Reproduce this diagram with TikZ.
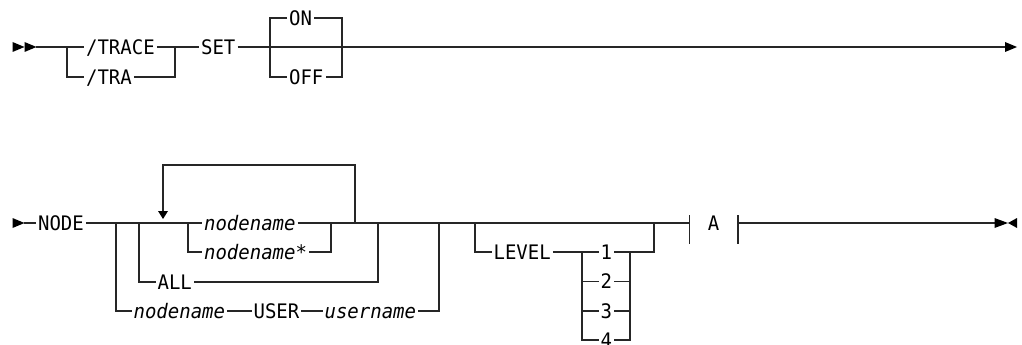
\documentclass[tikz,border=0pt]{standalone}
\usepackage{fontspec}
\newfontfamily\synfont[FakeStretch=0.95]{DejaVu Sans Mono}
\begin{document}
\begin{tikzpicture}[x=1pt,y=-1pt,
  line width=1.2pt,
  ln/.style={draw=black!85},
  lbl/.style={inner xsep=1.5pt, inner ysep=0pt, anchor=west, text height=14.6pt, text depth=0pt,
    font=\synfont\fontsize{20}{20}\selectfont},
  it/.style={font=\synfont\itshape\fontsize{20}{20}\selectfont},
  tip/.style={fill=black}]
\useasboundingbox (0,0) rectangle (1022,345);

% ---------- top row ----------
\coordinate (s1) at (36,47);
\fill[tip] (12.5,42) -- (24.5,47) -- (12.5,52) -- cycle;
\fill[tip] (24.5,42) -- (36.5,47) -- (24.5,52) -- cycle;
\coordinate (bA) at (67,47);
\node[lbl] (trace) at (84,47) {/TRACE};
\node[lbl] (tra) at (84,77) {/TRA};
\coordinate (bB) at (175,47);
\node[lbl] (set) at (199,47) {SET};
\coordinate (bC) at (270,47);
\node[lbl] (on) at (287,18) {ON};
\node[lbl] (off) at (287,77) {OFF};
\coordinate (bD) at (342,47);
\coordinate (e1) at (1005,47);

\draw[ln] (s1) -- (bA) -- (trace.west);
\draw[ln] (trace.east) -- (bB);
\draw[ln] (bA) |- (tra.west);
\draw[ln] (tra.east) -| (bB);
\draw[ln] (bB) -- (set.west);
\draw[ln] (set.east) -- (bC) -- (bD) -- (e1);
\draw[ln] (on.west) -| (bC) |- (off.west);
\draw[ln] (on.east) -| (bD) |- (off.east);
\fill[tip] (1005,42) -- (1017,47) -- (1005,52) -- cycle;

% ---------- bottom row ----------
\fill[tip] (12.5,218) -- (24.5,223) -- (12.5,228) -- cycle;
\coordinate (s2) at (24,223);
\node[lbl] (nodekw) at (36,223) {NODE};
\coordinate (c1) at (116,223);
\coordinate (c2) at (139,223);
\coordinate (lp) at (163,223);
\coordinate (c3) at (188,223);
\node[lbl,it] (nn1) at (202,223) {nodename};
\node[lbl,it] (nn2) at (202,252) {nodename*};
\coordinate (c4) at (331,223);
\coordinate (lr) at (355,223);
\coordinate (c5) at (378,223);
\node[lbl] (all) at (155.5,282) {ALL};
\node[lbl,it] (nn3) at (131.5,311) {nodename};
\node[lbl] (user) at (251.5,311) {USER};
\node[lbl,it] (un) at (322.5,311) {username};
\coordinate (c6) at (439,223);
\coordinate (c7) at (475,223);
\node[lbl] (lev) at (491.5,252) {LEVEL};
\coordinate (c8) at (582,252);
\node[lbl] (n1) at (598.5,252) {1};
\node[lbl] (n2) at (598.5,281.5) {2};
\node[lbl] (n3) at (598.5,311) {3};
\node[lbl] (n4) at (598.5,340) {4};
\coordinate (c9) at (630,252);
\coordinate (c10) at (654,223);
\coordinate (t1) at (689.5,223);
\node[lbl, anchor=center] (A) at (713.5,223) {A};
\coordinate (t2) at (738,223);
\coordinate (e2) at (995,223);

\draw[ln] (s2) -- (nodekw.west);
\draw[ln] (nodekw.east) -- (c1) -- (c2) -- (lp) -- (c3) -- (nn1.west);
\draw[ln] (c3) |- (nn2.west);
\draw[ln] (nn2.east) -| (c4);
\draw[ln] (nn1.east) -- (c4) -- (lr) -- (c5) -- (c6) -- (c7) -- (c10) -- (t1);
% repeat loop
\draw[ln] (lr) -- (355,165) -| (163,211);
\fill[tip] (158,211) -- (168,211) -- (163,219) -- cycle;
% ALL
\draw[ln] (c2) |- (all.west);
\draw[ln] (all.east) -| (c5);
% nodename USER username
\draw[ln] (c1) |- (nn3.west);
\draw[ln] (nn3.east) -- (user.west);
\draw[ln] (user.east) -- (un.west);
\draw[ln] (un.east) -| (c6);
% LEVEL
\draw[ln] (c7) |- (lev.west);
\draw[ln] (lev.east) -- (c8) -- (n1.west);
\draw[ln] (c8) |- (n2.west);
\draw[ln] (c8) |- (n3.west);
\draw[ln] (c8) |- (n4.west);
\draw[ln] (n1.east) -- (c9) -- (c9 -| c10) -- (c10);
\draw[ln] (n2.east) -- (n2.east -| c9);
\draw[ln] (n3.east) -- (n3.east -| c9);
\draw[ln] (n4.east) -| (c9);
% fragment reference A
\draw[ln, line width=1.5pt] (689.5,215) -- (689.5,244);
\draw[ln, line width=1.5pt] (738,215) -- (738,244);
\draw[ln] (t2) -- (e2);
\fill[tip] (994.5,218) -- (1008,223) -- (994.5,228) -- cycle;
\fill[tip] (1017,218) -- (1008,223) -- (1017,228) -- cycle;
\end{tikzpicture}
\end{document}
